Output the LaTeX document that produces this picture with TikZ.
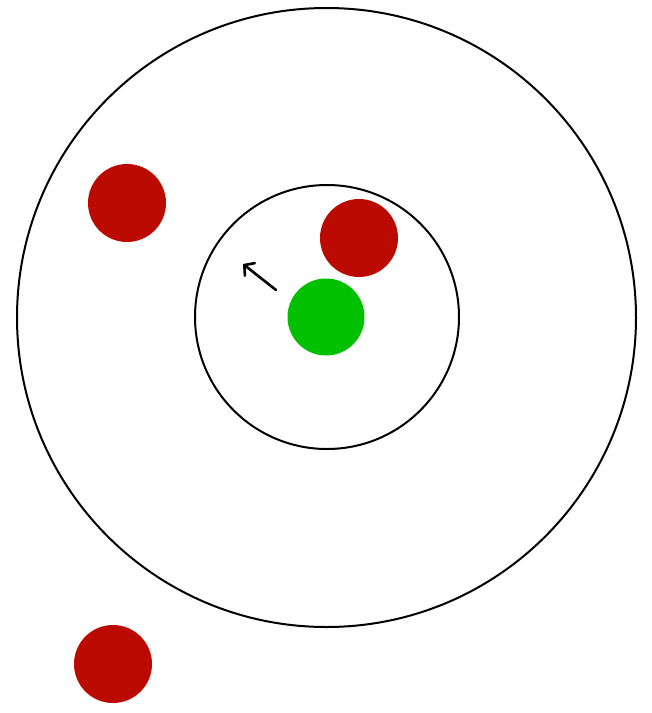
\documentclass[tikz,border=0pt]{standalone}
\usetikzlibrary{arrows.meta}
\definecolor{ballred}{RGB}{187,10,0}
\definecolor{ballgreen}{RGB}{0,192,0}
\begin{document}
\begin{tikzpicture}[x=1pt,y=-1pt,
  ring/.style={draw=black,line width=2pt},
  redball/.style={fill=ballred},
  greenball/.style={fill=ballgreen}]
\useasboundingbox (0,0) rectangle (652,713);
\draw[ring] (326.5,317.5) circle (309.5);
\draw[ring] (327,317) circle (132);
\fill[greenball] (326,317) circle (38.5);
\fill[redball] (127,203) circle (39);
\fill[redball] (359,238) circle (39);
\fill[redball] (113,664) circle (39);
\coordinate (tail) at (276,290);
\coordinate (tip) at (243,264);
\draw[line width=2.6pt,line cap=round,-{Straight Barb[length=7pt,width=16pt,line cap=round]}] (tail) -- (tip);
\end{tikzpicture}
\end{document}
